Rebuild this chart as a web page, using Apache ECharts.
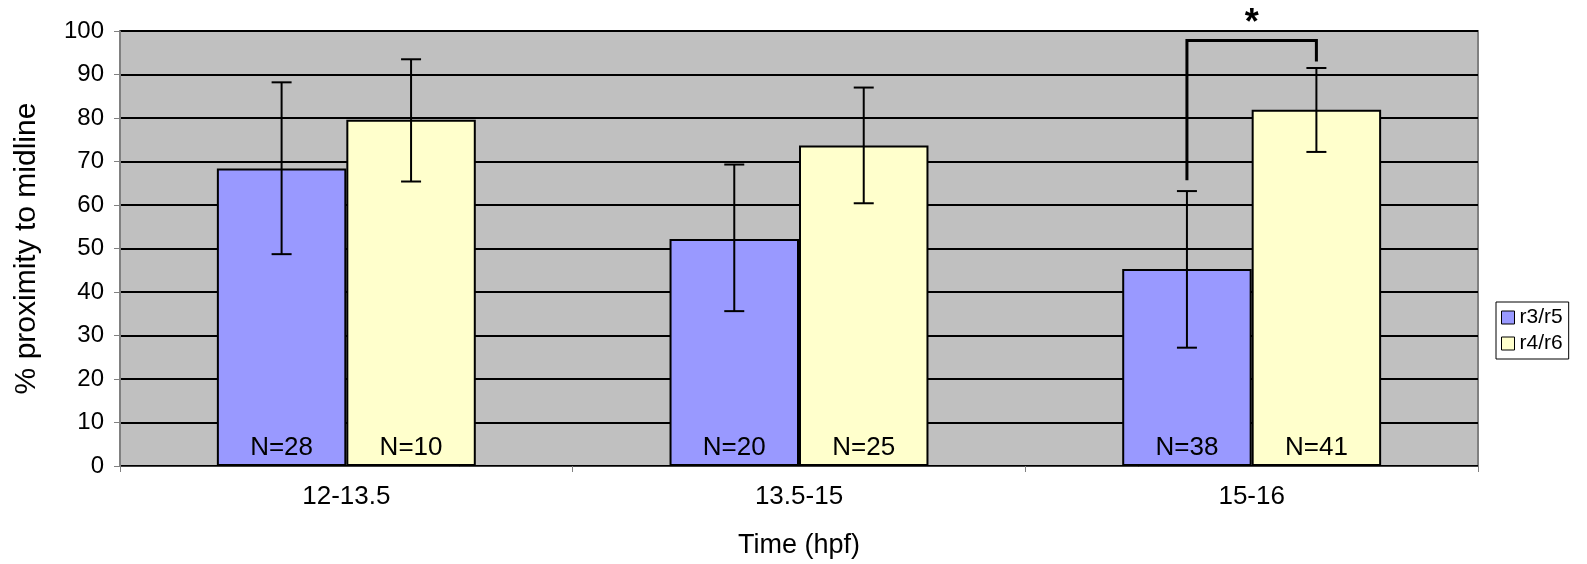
<!DOCTYPE html>
<html>
<head>
<meta charset="utf-8">
<script src="https://cdn.jsdelivr.net/npm/echarts@6/dist/echarts.min.js"></script>
<style>
html,body{margin:0;padding:0;background:#fff;}
#chart{width:1587px;height:564px;}
</style>
</head>
<body>
<div id="chart"></div>
<script>
// ---- data ----
var categories = ['12-13.5', '13.5-15', '15-16'];
var seriesNames = ['r3/r5', 'r4/r6'];
var r3r5 = [68.4, 52.2, 45.3];
var r4r6 = [79.6, 73.7, 81.9];
var r3r5Low = [48.7, 35.6, 27.2];
var r3r5High = [88.2, 69.3, 63.2];
var r4r6Low = [65.4, 60.4, 72.2];
var r4r6High = [93.5, 87.0, 91.5];
var r3r5N = [28, 20, 38];
var r4r6N = [10, 25, 41];
var yTicks = [0, 10, 20, 30, 40, 50, 60, 70, 80, 90, 100];
// significance bracket on category 3: left end, top, right end, star position
var bracketCategory = 2;
var bracketLeft = 65.7, bracketTop = 97.8, bracketRight = 93.0, starValue = 101.6;

var FONT = 'Liberation Sans, Arial, sans-serif';
var BAR_FRAC = 0.286;

function errorData(low, high) {
  return categories.map(function (c, i) { return [i, low[i], high[i]]; });
}

function makeErrorRender(side) {
  return function (params, api) {
    var i = api.value(0);
    var lo = api.coord([i, api.value(1)]);
    var hi = api.coord([i, api.value(2)]);
    var bw = api.size([1, 0])[0] * BAR_FRAC;
    var x = lo[0] + side * bw / 2;
    var cap = 10;
    var st = { stroke: '#000', lineWidth: 2 };
    return {
      type: 'group',
      children: [
        { type: 'line', shape: { x1: x, y1: lo[1], x2: x, y2: hi[1] }, style: st },
        { type: 'line', shape: { x1: x - cap, y1: lo[1], x2: x + cap, y2: lo[1] }, style: st },
        { type: 'line', shape: { x1: x - cap, y1: hi[1], x2: x + cap, y2: hi[1] }, style: st }
      ]
    };
  };
}

var chart = echarts.init(document.getElementById('chart'));
chart.setOption({
  backgroundColor: '#ffffff',
  animation: false,
  grid: {
    left: 120, right: 109, top: 31, bottom: 96,
    show: true, backgroundColor: '#C0C0C0', borderColor: '#808080', borderWidth: 2
  },
  legend: {
    data: seriesNames,
    orient: 'vertical',
    left: 1496, top: 302,
    itemWidth: 13, itemHeight: 13, itemGap: 5,
    padding: [5, 6, 5, 5],
    borderColor: '#000', borderWidth: 1,
    backgroundColor: '#fff',
    textStyle: { fontFamily: FONT, fontSize: 21, color: '#000' },
    icon: 'rect',
    itemStyle: { borderColor: '#000', borderWidth: 1 }
  },
  xAxis: {
    type: 'category',
    data: categories,
    boundaryGap: true,
    axisLine: { lineStyle: { color: '#404040', width: 1 } },
    axisTick: { show: true, length: 6, interval: 0, lineStyle: { color: '#808080' } },
    axisLabel: { fontFamily: FONT, fontSize: 26, color: '#000', margin: 18 },
    name: 'Time (hpf)',
    nameLocation: 'middle',
    nameGap: 66,
    nameTextStyle: { fontFamily: FONT, fontSize: 27, color: '#000' }
  },
  yAxis: {
    type: 'value',
    min: 0, max: 100, interval: 10,
    axisLine: { show: true, lineStyle: { color: '#808080', width: 1 } },
    axisTick: { show: true, inside: false, length: 6, lineStyle: { color: '#808080' } },
    axisLabel: { fontFamily: FONT, fontSize: 24, color: '#000', margin: 16,
      formatter: function (v) { return yTicks.indexOf(v) >= 0 ? String(v) : ''; } },
    splitLine: { show: true, lineStyle: { color: '#000', width: 2 } },
    name: '% proximity to midline',
    nameLocation: 'middle',
    nameGap: 78,
    nameTextStyle: { fontFamily: FONT, fontSize: 30, color: '#000' }
  },
  series: [
    {
      name: seriesNames[0], type: 'bar', data: r3r5,
      barWidth: (BAR_FRAC * 100) + '%', barGap: '0%',
      itemStyle: { color: '#9999FF', borderColor: '#000', borderWidth: 2 },
      label: { show: true, position: 'insideBottom', distance: 5,
        fontFamily: FONT, fontSize: 26, color: '#000',
        formatter: function (p) { return 'N=' + r3r5N[p.dataIndex]; } }
    },
    {
      name: seriesNames[1], type: 'bar', data: r4r6,
      barWidth: (BAR_FRAC * 100) + '%', barGap: '0%',
      itemStyle: { color: '#FFFFCC', borderColor: '#000', borderWidth: 2 },
      label: { show: true, position: 'insideBottom', distance: 5,
        fontFamily: FONT, fontSize: 26, color: '#000',
        formatter: function (p) { return 'N=' + r4r6N[p.dataIndex]; } }
    },
    {
      type: 'custom', name: 'err1', data: errorData(r3r5Low, r3r5High),
      renderItem: makeErrorRender(-1), z: 5, silent: true
    },
    {
      type: 'custom', name: 'err2', data: errorData(r4r6Low, r4r6High),
      renderItem: makeErrorRender(1), z: 5, silent: true
    },
    {
      type: 'custom', name: 'bracket', clip: false, z: 6, silent: true,
      data: [[bracketCategory, bracketLeft, bracketTop, bracketRight, starValue]],
      renderItem: function (params, api) {
        var i = api.value(0);
        var bw = api.size([1, 0])[0] * BAR_FRAC;
        var pL = api.coord([i, api.value(1)]);
        var pT = api.coord([i, api.value(2)]);
        var pR = api.coord([i, api.value(3)]);
        var pS = api.coord([i, api.value(4)]);
        var xl = pL[0] - bw / 2, xr = pL[0] + bw / 2;
        return {
          type: 'group',
          children: [
            { type: 'polyline',
              shape: { points: [[xl, pL[1]], [xl, pT[1]], [xr, pT[1]], [xr, pR[1]]] },
              style: { stroke: '#000', lineWidth: 3, fill: null } },
            { type: 'text',
              style: { x: pS[0], y: pS[1], text: '*', align: 'center', verticalAlign: 'middle',
                font: 'bold 36px ' + FONT, fill: '#000' } }
          ]
        };
      }
    }
  ]
});
</script>
</body>
</html>
